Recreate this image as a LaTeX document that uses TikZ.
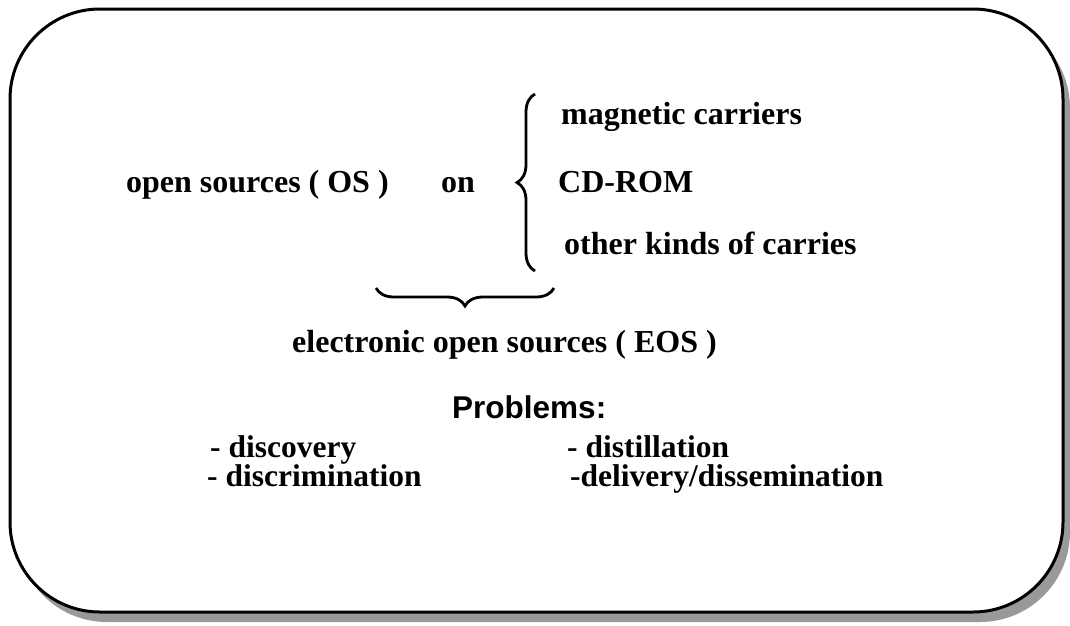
\documentclass[tikz,border=0pt]{standalone}
\usepackage{fontspec}
\setmainfont{Liberation Serif}
\newfontfamily\headfont{Liberation Sans}
\usetikzlibrary{positioning, decorations.pathreplacing}

\begin{document}
\begin{tikzpicture}[x=1pt, y=-1pt,
            item/.style={anchor=base west, inner sep=0pt, font=\fontsize{32}{38}\selectfont\bfseries},
            task/.style={item, font=\fontsize{31.5}{38}\selectfont\bfseries},
            head/.style={anchor=base west, inner sep=0pt, font=\fontsize{31.5}{36}\selectfont\headfont\bfseries},
            frame/.style={rounded corners=90pt, line width=3pt},
            shade/.style={rounded corners=90pt, fill=black!40},
            curly/.style={decorate, decoration={brace, amplitude=18pt}, line width=2.8pt}
        ]
            \useasboundingbox (0,0) rectangle (1070,625);
            \fill[shade] (17,18) rectangle (1070,622);
            \draw[frame, fill=white] (10,9) rectangle (1063,612);

            \node[item] (os) at (126,192) {open sources ( OS )};
            \node[item] (on) at (441,192) {on};
            \node[item] (mag) at (561,124) {magnetic carriers};
            \node[item] (cdrom) at (558,192) {CD-ROM};
            \node[item] (other) at (564,254) {other kinds of carries};

            \coordinate (bt) at (535,271);
            \coordinate (tp) at (535,94);
            \draw[curly] (bt) -- (tp);

            \coordinate (ur) at (554,288);
            \coordinate (ul) at (376,288);
            \draw[curly] (ur) -- (ul);

            \node[item] (eos) at (292,352) {electronic open sources ( EOS )};
            \node[head] (prob) at (452,418) {Problems:};

            \node[task] (disc) at (210,457) {- discovery};
            \node[task] (discr) at (207,486) {- discrimination};
            \node[task] (dist) at (567,457) {- distillation};
            \node[task] (deliv) at (570,486) {-delivery/dissemination};
        \end{tikzpicture}
\end{document}
